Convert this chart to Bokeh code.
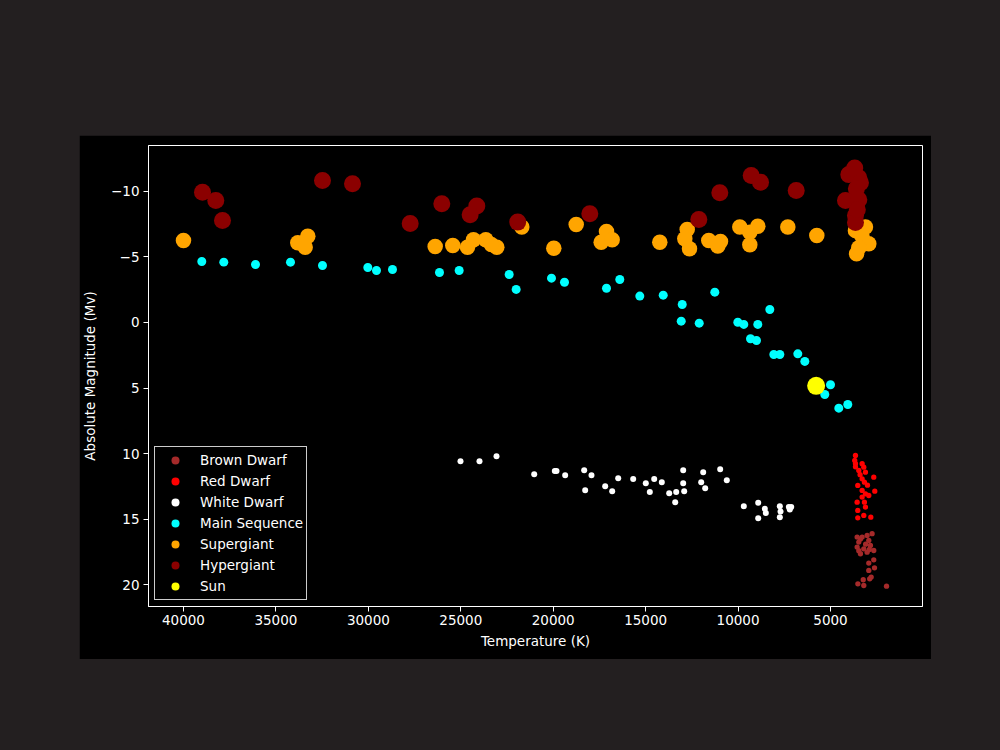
from bokeh.plotting import figure
from bokeh.models import Range1d, FixedTicker
from bokeh.embed import file_html
from bokeh.resources import INLINE

# ---- data (Temperature K, Absolute magnitude Mv) ----
brown_T = [3560, 3290, 3020, 2750, 3470, 2930, 3560, 3200, 2840, 2660, 3380, 3020,
           2660, 2930, 2620, 2930, 2800, 2880, 3520, 3230, 3200, 1970,
           3380, 3100, 2900, 3470]
brown_M = [16.36, 16.36, 16.23, 16.10, 16.74, 16.62, 17.12, 17.25, 17.00, 17.38, 17.63, 17.51,
           18.09, 18.34, 18.70, 18.90, 19.41, 19.54, 19.92, 19.61, 20.05, 20.10,
           16.50, 16.90, 17.30, 17.40]

red_T = [3650, 3690, 3650, 3290, 3200, 3470, 3110, 2660, 3290, 3165, 3525, 2605,
         3290, 3110, 2930, 3290, 3560, 3165, 3110, 3525, 3200, 3525, 2820,
         3400, 3000, 3650]
red_M = [10.14, 10.52, 10.77, 10.77, 11.03, 11.28, 11.41, 11.79, 11.92, 12.17, 12.42, 12.86,
         12.80, 13.06, 13.19, 13.31, 13.70, 13.70, 14.07, 14.33, 14.71, 14.89, 14.84,
         11.60, 12.40, 11.00]

white_T = [25016, 23988, 23068, 21028, 19914, 19822, 19353, 18325, 17930, 18271,
           17189, 16810, 16485, 15674, 14992, 14537, 14775, 14126, 13726, 13347,
           13401, 12969, 12969, 12915, 11887, 11995, 11779, 10968, 10611, 9690,
           8911, 8911, 8554, 8499, 7742, 7704, 7742, 7255, 7125, 7201]
white_M = [10.57, 10.57, 10.19, 11.56, 11.33, 11.33, 11.64, 11.26, 11.64, 12.78,
           12.48, 12.86, 11.87, 11.94, 12.25, 11.94, 12.93, 12.17, 13.01, 12.93,
           13.70, 11.26, 12.25, 12.86, 11.41, 12.17, 12.63, 11.18, 12.02, 14.00,
           13.74, 14.92, 14.20, 14.53, 14.00, 14.41, 14.84, 14.07, 14.07, 14.25]

main_T = [39010, 37820, 36105, 34212, 32481, 30030, 29560, 28694, 26152, 25087,
          22382, 22004, 20093, 19390, 17118, 16398, 15316, 14050, 13022, 11259,
          13076, 12102, 10014, 9690, 8933, 8283, 9328, 9004, 8067, 7742,
          6769, 6390, 5000, 5309, 4065, 4552]
main_M = [-4.65, -4.60, -4.42, -4.60, -4.34, -4.19, -3.96, -4.04, -3.81, -3.96,
          -3.66, -2.52, -3.38, -3.07, -2.61, -3.28, -2.01, -2.08, -1.37, -2.31,
          -0.10, 0.05, -0.02, 0.15, 0.15, -0.99, 1.24, 1.37, 2.44, 2.44,
          2.39, 2.97, 4.75, 5.49, 6.25, 6.53]

super_T = [40000, 33817, 33276, 33417, 26385, 25433, 24637, 24313, 23647, 23052,
           23350, 21700, 19968, 18757, 17118, 17405, 16810, 14235, 12752, 12882,
           12628, 11584, 10951, 11097, 9907, 8933, 9365, 9365, 7310, 5741,
           3650, 3110, 3300, 2930, 3590, 3470]
super_M = [-6.25, -6.07, -6.58, -5.74, -5.79, -5.87, -5.74, -6.30, -6.30, -5.74,
           -5.95, -7.27, -5.66, -7.47, -6.94, -6.12, -6.30, -6.12, -7.09, -6.38,
           -5.62, -6.25, -6.17, -5.82, -7.27, -7.34, -6.88, -5.92, -7.27, -6.63,
           -7.00, -7.27, -6.60, -6.00, -5.24, -5.70]

hyper_T = [38972, 38253, 37890, 32481, 30858, 27737, 26027, 24134, 24495, 21920,
           18020, 10988, 12124, 9290, 8787, 6856, 3690, 4010, 3470, 3380,
           3600, 4190, 3470, 3650, 3650, 3550]
hyper_M = [-9.93, -9.30, -7.77, -10.82, -10.57, -7.55, -9.05, -8.87, -8.21, -7.65,
           -8.28, -9.88, -7.85, -11.20, -10.69, -10.06, -11.78, -11.27, -11.03, -10.65,
           -10.20, -9.30, -9.35, -8.16, -7.62, -8.60]

sun_T = [5778]
sun_M = [4.83]

x_ticks = [40000, 35000, 30000, 25000, 20000, 15000, 10000, 5000]
y_ticks = [-10, -5, 0, 5, 10, 15, 20]

FONT = "DejaVu Sans"
FS = "13.5px"

p = figure(frame_width=774, frame_height=461,
           x_range=Range1d(41893, 24), y_range=Range1d(21.65, -13.49),
           output_backend="svg", toolbar_location=None,
           min_border_left=69, min_border_right=9, min_border_top=10, min_border_bottom=53,
           background_fill_color="black", border_fill_color="black",
           outline_line_color="white", outline_line_width=1)
p.grid.visible = False

series = [
    (brown_T, brown_M, "#a52a2a", 5.3, "Brown Dwarf"),
    (red_T, red_M, "red", 5.3, "Red Dwarf"),
    (white_T, white_M, "white", 6, "White Dwarf"),
    (main_T, main_M, "cyan", 9, "Main Sequence"),
    (super_T, super_M, "orange", 15.5, "Supergiant"),
    (hyper_T, hyper_M, "#8b0000", 17, "Hypergiant"),
    (sun_T, sun_M, "yellow", 18, "Sun"),
]
for xs, ys, col, sz, lab in series:
    p.scatter(xs, ys, size=sz, fill_color=col, line_color=None, legend_label=lab)

for ax in (p.xaxis[0], p.yaxis[0]):
    ax.axis_line_color = "white"
    ax.major_tick_line_color = "white"
    ax.minor_tick_line_color = None
    ax.major_tick_out = 5
    ax.major_tick_in = 0
    ax.major_label_text_color = "white"
    ax.major_label_text_font = FONT
    ax.major_label_text_font_size = FS
    ax.axis_label_text_color = "white"
    ax.axis_label_text_font = FONT
    ax.axis_label_text_font_size = FS
    ax.axis_label_text_font_style = "normal"

p.xaxis.ticker = FixedTicker(ticks=x_ticks)
p.yaxis.ticker = FixedTicker(ticks=y_ticks)
p.yaxis.major_label_overrides = {t: (("\u2212" + str(-t)) if t < 0 else str(t)) for t in y_ticks}
p.xaxis.axis_label = "Temperature (K)"
p.yaxis.axis_label = "Absolute Magnitude (Mv)"
p.xaxis.major_label_standoff = 3
p.xaxis.axis_label_standoff = 5
p.yaxis.major_label_standoff = 4
p.yaxis.axis_label_standoff = 10

lg = p.legend[0]
lg.location = "bottom_left"
lg.margin = 6
lg.padding = 3
lg.spacing = 1
lg.glyph_width = 34
lg.glyph_height = 20
lg.label_height = 20
lg.label_standoff = 8
lg.label_text_color = "white"
lg.label_text_font = FONT
lg.label_text_font_size = FS
lg.background_fill_color = "black"
lg.background_fill_alpha = 0.8
lg.border_line_color = "white"
lg.border_line_alpha = 0.8

html = file_html(p, INLINE)
html = html.replace("</head>",
                    "<style>html, body {background:#231f20 !important;} "
                    "body {padding:135px 0 0 79px !important; margin:0;}</style></head>", 1)
open("out.html", "w").write(html)
